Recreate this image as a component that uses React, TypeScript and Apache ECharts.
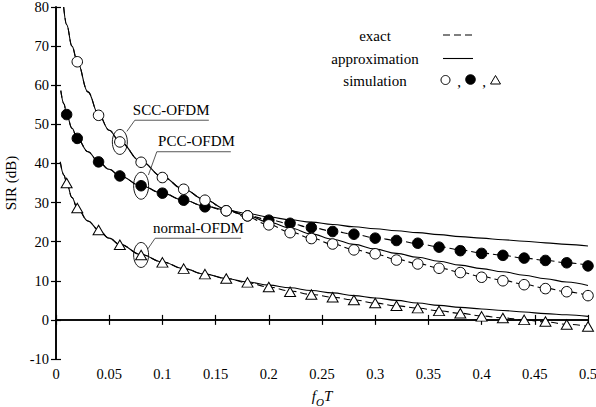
import React, { useEffect, useRef } from "react";
import * as echarts from "echarts";

// ---- simulation points ----
const sccSimX = [0.02, 0.04, 0.06, 0.08, 0.1, 0.12, 0.14, 0.16, 0.18, 0.2, 0.22, 0.24, 0.26, 0.28, 0.3, 0.32, 0.34, 0.36, 0.38, 0.4, 0.42, 0.44, 0.46, 0.48, 0.5];
const sccSim = [66, 52.3, 45.5, 40.3, 36.4, 33.4, 30.6, 27.9, 26.6, 24.3, 22.3, 20.8, 19.4, 17.9, 16.9, 15.3, 14.3, 13.2, 12.1, 10.9, 10.0, 9.0, 8.0, 7.2, 6.2];

const pccSimX = [0.01, 0.02, 0.04, 0.06, 0.08, 0.1, 0.12, 0.14, 0.16, 0.18, 0.2, 0.22, 0.24, 0.26, 0.28, 0.3, 0.32, 0.34, 0.36, 0.38, 0.4, 0.42, 0.44, 0.46, 0.48, 0.5];
const pccSim = [52.5, 46.4, 40.4, 36.8, 34.3, 32.4, 30.6, 28.9, 27.9, 26.6, 25.5, 24.7, 23.6, 22.6, 21.9, 20.9, 20.3, 19.6, 18.6, 17.7, 17.0, 16.5, 15.8, 15.2, 14.6, 13.8];

const normalSimX = [0.01, 0.02, 0.04, 0.06, 0.08, 0.1, 0.12, 0.14, 0.16, 0.18, 0.2, 0.22, 0.24, 0.26, 0.28, 0.3, 0.32, 0.34, 0.36, 0.38, 0.4, 0.42, 0.44, 0.46, 0.48, 0.5];
const normalSim = [35, 28.6, 23.0, 19.2, 16.6, 14.7, 13.1, 11.7, 10.6, 9.6, 8.4, 7.2, 6.5, 5.8, 5.1, 4.3, 3.6, 3.0, 2.3, 1.7, 0.9, 0.5, 0.0, -0.4, -1.2, -1.7];

// ---- analytic curves ----
const sccCurveX = [0.0072, 0.01, 0.015, 0.02, 0.03, 0.04, 0.05, 0.06, 0.08, 0.1, 0.12, 0.14, 0.16, 0.18, 0.2, 0.22, 0.24, 0.26, 0.28, 0.3, 0.32, 0.34, 0.36, 0.38, 0.4, 0.42, 0.44, 0.46, 0.48, 0.5];
const sccExact = [80, 75.5, 70, 66, 58.3, 52.5, 48.5, 45.5, 40.5, 36.6, 33.4, 30.7, 28.2, 26.2, 24.3, 22.5, 20.9, 19.4, 18.0, 16.8, 15.5, 14.4, 13.3, 12.2, 11.1, 10.1, 9.1, 8.1, 7.2, 6.2];
const sccApprox = [80, 75.5, 70, 66, 58.3, 52.5, 48.5, 45.5, 40.5, 36.6, 33.4, 30.7, 28.3, 26.6, 25.0, 23.5, 22.0, 20.6, 19.3, 18.1, 17.0, 16.0, 15.0, 14.0, 13.1, 12.3, 11.4, 10.5, 9.7, 8.8];

const pccCurveX = [0.0045, 0.0075, 0.01, 0.015, 0.02, 0.03, 0.04, 0.05, 0.06, 0.08, 0.1, 0.12, 0.14, 0.16, 0.18, 0.2, 0.22, 0.24, 0.26, 0.28, 0.3, 0.32, 0.34, 0.36, 0.38, 0.4, 0.42, 0.44, 0.46, 0.48, 0.5];
const pccExact = [58.6, 55.2, 52.5, 49, 46.4, 43, 40.4, 38.5, 36.8, 34.3, 32.4, 30.6, 29.1, 27.9, 26.7, 25.6, 24.6, 23.6, 22.7, 21.9, 21.0, 20.3, 19.5, 18.7, 17.9, 17.1, 16.5, 15.8, 15.2, 14.6, 14.0];
const pccApprox = [58.6, 55.2, 52.5, 49, 46.4, 43, 40.4, 38.5, 36.8, 34.3, 32.4, 30.6, 29.1, 28.1, 27.2, 26.3, 25.6, 25.0, 24.4, 23.8, 23.3, 22.8, 22.3, 21.8, 21.3, 20.9, 20.5, 20.1, 19.7, 19.3, 18.9];

const normalCurveX = [0.004, 0.0075, 0.01, 0.015, 0.02, 0.03, 0.04, 0.05, 0.06, 0.08, 0.1, 0.12, 0.14, 0.16, 0.18, 0.2, 0.22, 0.24, 0.26, 0.28, 0.3, 0.32, 0.34, 0.36, 0.38, 0.4, 0.42, 0.44, 0.46, 0.48, 0.5];
const normalExact = [40.4, 37, 35, 31.3, 28.6, 25.3, 23.0, 20.9, 19.3, 16.7, 14.8, 13.1, 11.7, 10.6, 9.5, 8.4, 7.4, 6.5, 5.8, 5.1, 4.3, 3.6, 3.0, 2.3, 1.7, 1.0, 0.5, 0.0, -0.5, -1.1, -1.7];
const normalApprox = [40.4, 37, 35, 31.3, 28.6, 25.3, 23.0, 20.9, 19.3, 16.7, 14.8, 13.1, 11.7, 10.6, 9.7, 8.9, 8.2, 7.5, 6.9, 6.2, 5.6, 5.0, 4.3, 3.7, 3.2, 2.8, 2.4, 2.0, 1.6, 1.3, 0.9];

// ---- axes / texts ----
const xMin = 0, xMax = 0.5, xStep = 0.05;
const yMin = -10, yMax = 80, yStep = 10;
const yAxisTitle = "SIR (dB)";
const labels = ["SCC-OFDM", "PCC-OFDM", "normal-OFDM"];
const legendTexts = ["exact", "approximation", "simulation"];

const FONT = "Liberation Serif";

const zip = (xs: number[], ys: number[]) => xs.map((x, i) => [x, ys[i]]);

export default function App() {
  const ref = useRef<HTMLDivElement>(null);
  useEffect(() => {
    if (!ref.current) return;
    const chart = echarts.init(ref.current, null, { renderer: "svg" });

    const curve = (data: number[][], dashed: boolean) => ({
      type: "line",
      data,
      showSymbol: false,
      symbol: "none",
      smooth: 0.4,
      smoothMonotone: "x",
      lineStyle: { color: "#000", width: 1.1, type: dashed ? [7, 4] : "solid" },
      z: 2,
      silent: true,
    });

    const axisCommon = {
      type: "value",
      axisLine: { show: true, lineStyle: { color: "#000", width: 1.6 } },
      axisTick: { show: true, inside: true, length: 5, lineStyle: { color: "#000", width: 1.2 } },
      splitLine: { show: false },
    };

    const txt = (size: number, extra: any = {}) => ({ fontFamily: FONT, fontSize: size, color: "#000", ...extra });

    const option: any = {
      animation: false,
      backgroundColor: "#fff",
      grid: { left: 56, right: 8, top: 7, bottom: 48, containLabel: false, outerBoundsMode: "none" },
      xAxis: [
        {
          ...axisCommon,
          min: xMin, max: xMax, interval: xStep,
          position: "bottom",
          axisLabel: { ...txt(14.5), margin: 7 },
          name: "{i|f}{s|O}{i|T}",
          nameLocation: "middle",
          nameGap: 24,
          nameTextStyle: {
            rich: {
              i: txt(15, { fontStyle: "italic", verticalAlign: "top", height: 20, lineHeight: 20 }),
              s: txt(11, { fontStyle: "italic", verticalAlign: "bottom", height: 20, lineHeight: 26 }),
            },
          },
        },
        {
          ...axisCommon,
          min: xMin, max: xMax, interval: xStep,
          position: "top",
          axisLabel: { show: false },
        },
      ],
      yAxis: [
        {
          ...axisCommon,
          min: yMin, max: yMax, interval: yStep,
          position: "left",
          axisLabel: { ...txt(14.5), margin: 7 },
          name: yAxisTitle,
          nameLocation: "middle",
          nameGap: 27,
          nameTextStyle: txt(15),
        },
        {
          ...axisCommon,
          min: yMin, max: yMax, interval: yStep,
          position: "right",
          axisLabel: { show: false },
        },
      ],
      series: [
        curve(zip(sccCurveX, sccExact), true),
        curve(zip(sccCurveX, sccApprox), false),
        curve(zip(pccCurveX, pccExact), true),
        curve(zip(pccCurveX, pccApprox), false),
        curve(zip(normalCurveX, normalExact), true),
        curve(zip(normalCurveX, normalApprox), false),
        {
          type: "scatter",
          data: zip(pccSimX, pccSim),
          symbol: "circle",
          symbolSize: 10.5,
          itemStyle: { color: "#000", borderColor: "#000", borderWidth: 1, opacity: 1 },
          z: 3,
          silent: true,
        },
        {
          type: "scatter",
          data: zip(sccSimX, sccSim),
          symbol: "circle",
          symbolSize: 10.5,
          itemStyle: { color: "#fff", borderColor: "#000", borderWidth: 1, opacity: 1 },
          z: 4,
          silent: true,
        },
        {
          type: "scatter",
          data: zip(normalSimX, normalSim),
          symbol: "triangle",
          symbolSize: [11, 9.5],
          itemStyle: { color: "#fff", borderColor: "#000", borderWidth: 1, opacity: 1 },
          z: 4,
          silent: true,
        },
      ],
    };
    chart.setOption(option);

    const px = (x: number, y: number) => chart.convertToPixel({ xAxisIndex: 0, yAxisIndex: 0 }, [x, y]) as number[];
    const anchors = [
      { p: px(sccSimX[2], sccSim[2]), rx: 7.5, ry: 12.5, a: [7, -10.5], b: [15, -21.7], e: 89, tx: 13, ty: -31.5 },
      { p: px(pccSimX[4], pccSim[4]), rx: 7.5, ry: 13.5, a: [7.3, -10.7], b: [15.7, -34], e: 89.7, tx: 17, ty: -45 },
      { p: px(normalSimX[4], normalSim[4]), rx: 7.5, ry: 12.5, a: [6.7, -6], b: [14, -16.7], e: 100, tx: 12, ty: -26.5 },
    ];
    const gtext = (x: number, y: number, text: string, align: string) => ({
      type: "text",
      x,
      y,
      style: { text, fontFamily: FONT, fontSize: 15, fill: "#000", align, verticalAlign: "middle" },
      z: 10,
      silent: true,
    });
    const graphics: any[] = [];
    anchors.forEach((an, i) => {
      const [cx, cy] = an.p;
      graphics.push({
        type: "ellipse",
        shape: { cx, cy, rx: an.rx, ry: an.ry },
        style: { fill: "none", stroke: "#000", lineWidth: 0.9 },
        z: 10,
        silent: true,
      });
      graphics.push({
        type: "polyline",
        shape: { points: [[cx + an.a[0], cy + an.a[1]], [cx + an.b[0], cy + an.b[1]], [cx + an.e, cy + an.b[1]]] },
        style: { fill: "none", stroke: "#444", lineWidth: 0.9 },
        z: 10,
        silent: true,
      });
      graphics.push(gtext(cx + an.tx, cy + an.ty, labels[i], "left"));
    });

    // legend
    const legY = [36, 59, 81];
    legendTexts.forEach((t, i) => graphics.push(gtext(375, legY[i], t, "center")));
    graphics.push({
      type: "line",
      shape: { x1: 443, y1: 35, x2: 473, y2: 35 },
      style: { stroke: "#000", lineWidth: 1.1, lineDash: [7, 4] },
      silent: true,
    });
    graphics.push({
      type: "line",
      shape: { x1: 443, y1: 58.5, x2: 473, y2: 58.5 },
      style: { stroke: "#000", lineWidth: 1.1 },
      silent: true,
    });
    graphics.push({ type: "circle", shape: { cx: 445.5, cy: 80, r: 4.5 }, style: { fill: "#fff", stroke: "#000", lineWidth: 1 }, silent: true });
    graphics.push(gtext(459, 82, ",", "center"));
    graphics.push({ type: "circle", shape: { cx: 470.5, cy: 79.5, r: 4.8 }, style: { fill: "#000", stroke: "#000", lineWidth: 1 }, silent: true });
    graphics.push(gtext(484, 82, ",", "center"));
    graphics.push({
      type: "polygon",
      shape: { points: [[495.5, 75.5], [490.5, 84], [500.5, 84]] },
      style: { fill: "#fff", stroke: "#000", lineWidth: 1 },
      silent: true,
    });

    chart.setOption({ graphic: graphics });

    return () => chart.dispose();
  }, []);

  return <div ref={ref} style={{ position: "fixed", left: 0, top: 0, width: 596, height: 407, background: "#fff" }} />;
}
